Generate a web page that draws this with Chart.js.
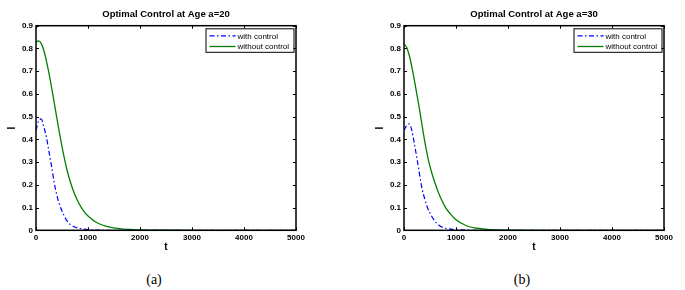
<!DOCTYPE html>
<html><head><meta charset="utf-8">
<script src="https://cdn.jsdelivr.net/npm/chart.js@4.4.1/dist/chart.umd.min.js"></script>
<style>
body{margin:0;background:#fff;width:685px;height:290px;position:relative;overflow:hidden}
canvas{position:absolute;top:0}
.cap{position:absolute;top:272px;font-family:"Liberation Serif","DejaVu Serif","Times New Roman",serif;font-size:14px;color:#000;transform:translateX(-50%);line-height:16px}
</style></head><body>
<canvas id="c1" width="340" height="262" style="left:0"></canvas>
<canvas id="c2" width="317" height="262" style="left:368px"></canvas>
<div class="cap" style="left:154px">(a)</div>
<div class="cap" style="left:522px">(b)</div>
<script>
const timePoints = [0,50,100,150,200,250,300,350,400,450,500,600,700,800,900,1000,1200,1400,1600,1800,2000,2500,3000,4000,5000];
// Age a=20
const withControlA20 =    [0.44,0.48,0.49,0.455,0.41,0.345,0.28,0.21,0.155,0.115,0.085,0.04,0.02,0.01,0.006,0.003,0.001,0,0,0,0,0,0,0,0];
const withoutControlA20 = [0.828,0.833,0.822,0.792,0.745,0.69,0.628,0.562,0.495,0.43,0.368,0.262,0.185,0.13,0.09,0.063,0.03,0.015,0.007,0.0035,0.002,0.0005,0,0,0];
// Age a=30
const withControlA30 =    [0.44,0.46,0.468,0.44,0.38,0.315,0.245,0.18,0.137,0.1,0.075,0.038,0.018,0.009,0.005,0.003,0.001,0,0,0,0,0,0,0,0];
const withoutControlA30 = [0.82,0.805,0.77,0.72,0.66,0.595,0.53,0.458,0.39,0.33,0.28,0.205,0.145,0.1,0.07,0.046,0.02,0.009,0.004,0.002,0.001,0,0,0,0];
const xTickValues = [0,1000,2000,3000,4000,5000];
const yTickLabels = ['0','0.1','0.2','0.3','0.4','0.5','0.6','0.7','0.8','0.9'];
const seriesNames = ['with control','without control'];
const titles = ['Optimal Control at Age a=20','Optimal Control at Age a=30'];

const SANS = "'Liberation Sans', Arial, Helvetica, sans-serif";

const framePlugin = {
  id:'frame',
  afterDatasetsDraw(chart){
    const {ctx, chartArea:a, scales:{x,y}} = chart;
    ctx.save();
    ctx.strokeStyle='#000'; ctx.lineWidth=1;
    const L=3;
    ctx.beginPath();
    x.ticks.forEach(t=>{const px=Math.round(x.getPixelForValue(t.value))+0.5;
      ctx.moveTo(px,a.bottom); ctx.lineTo(px,a.bottom-L);
      ctx.moveTo(px,a.top); ctx.lineTo(px,a.top+L);});
    y.ticks.forEach(t=>{const py=Math.round(y.getPixelForValue(t.value))+0.5;
      ctx.moveTo(a.left,py); ctx.lineTo(a.left+L,py);
      ctx.moveTo(a.right,py); ctx.lineTo(a.right-L,py);});
    ctx.stroke();
    ctx.lineWidth=1.5;
    ctx.strokeRect(a.left,a.top,a.right-a.left,a.bottom-a.top);
    // legend
    const bw=88, bh=23.5;
    const bx=a.right-2.5-bw, by=a.top+2.6;
    ctx.fillStyle='#fff';
    ctx.fillRect(bx,by,bw,bh);
    ctx.lineWidth=1;
    ctx.strokeRect(bx+0.5,by+0.5,bw,bh);
    ctx.font='8px '+SANS;
    ctx.textBaseline='middle';
    chart.data.datasets.forEach((ds,i)=>{
      const ly=by+7.5+i*10.7;
      ctx.strokeStyle=ds.borderColor; ctx.lineWidth=ds.borderWidth;
      ctx.setLineDash(ds.borderDash||[]);
      ctx.beginPath(); ctx.moveTo(bx+4,ly); ctx.lineTo(bx+30,ly); ctx.stroke();
      ctx.setLineDash([]);
      ctx.fillStyle='#000';
      ctx.fillText(ds.label,bx+32,ly+0.5);
    });
    ctx.restore();
  }
};

function pts(ys){ return timePoints.map((t,i)=>({x:t,y:ys[i]})); }

function makeChart(id, title, withC, withoutC, padRight){
  return new Chart(document.getElementById(id), {
    type:'line',
    data:{datasets:[
      {label:seriesNames[0], data:pts(withC), borderColor:'#0000ff', borderWidth:1.2, borderDash:[5,2.5,1.5,2.5], pointRadius:0, cubicInterpolationMode:'monotone', fill:false},
      {label:seriesNames[1], data:pts(withoutC), borderColor:'#008000', borderWidth:1.3, pointRadius:0, cubicInterpolationMode:'monotone', fill:false}
    ]},
    options:{
      responsive:false, animation:false, devicePixelRatio:1,
      layout:{padding:{left:0,right:padRight,top:0,bottom:0}},
      plugins:{
        legend:{display:false}, tooltip:{enabled:false},
        title:{display:true, text:title, fullSize:false, color:'#000',
          font:{family:SANS, size:9.5, weight:'bold', lineHeight:1.2}, padding:{top:9,bottom:5.3}}
      },
      scales:{
        x:{type:'linear', min:0, max:5000,
          afterBuildTicks:s=>{s.ticks=xTickValues.map(v=>({value:v}));},
          afterFit:s=>{s.height=31.7;},
          grid:{display:false, drawTicks:false}, border:{display:false},
          ticks:{color:'#000', padding:3, maxRotation:0, font:{family:SANS,size:8,weight:'bold'}, callback:v=>String(v)},
          title:{display:true, text:'t', color:'#000', font:{family:SANS,size:10,weight:'bold',lineHeight:1.2}, padding:{top:0,bottom:8.3}}
        },
        y:{type:'linear', min:0, max:0.9,
          afterBuildTicks:s=>{s.ticks=yTickLabels.map(v=>({value:parseFloat(v)}));},
          afterFit:s=>{s.width=36;},
          grid:{display:false, drawTicks:false}, border:{display:false},
          ticks:{color:'#000', padding:3, font:{family:SANS,size:8,weight:'bold'},
            callback:(v,i)=>yTickLabels[i]},
          title:{display:true, text:'I', color:'#000', font:{family:SANS,size:10,weight:'bold',lineHeight:1.2}, padding:{top:6.5,bottom:0}}
        }
      }
    },
    plugins:[framePlugin]
  });
}
makeChart('c1', titles[0], withControlA20, withoutControlA20, 44);
makeChart('c2', titles[1], withControlA30, withoutControlA30, 21);
</script>
</body></html>
